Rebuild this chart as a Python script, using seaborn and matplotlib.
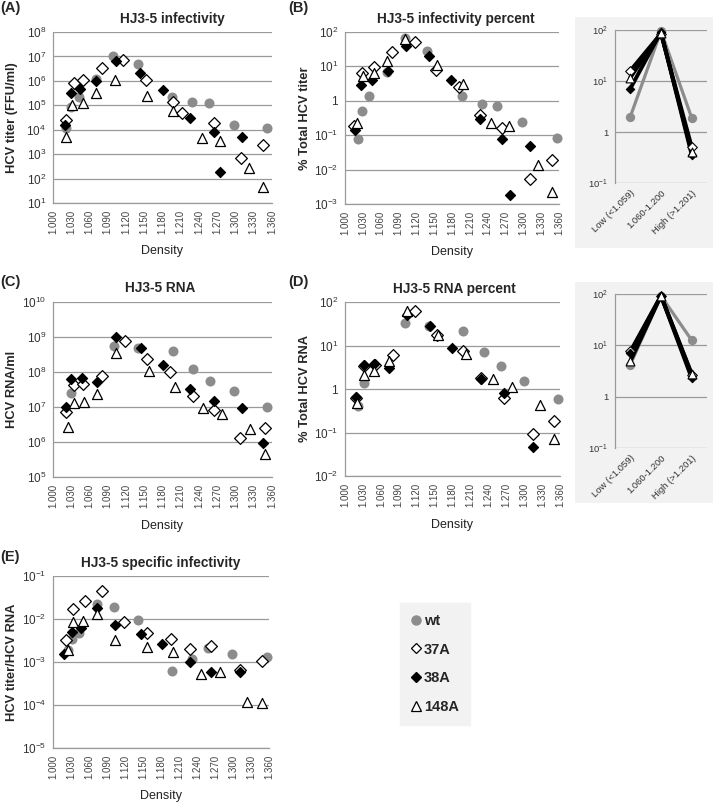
"""HJ3-5 density gradient panels (A-E) with summary insets."""

import numpy as np
import pandas as pd
import matplotlib
matplotlib.use('Agg')
import matplotlib.pyplot as plt
import seaborn as sns
from matplotlib.ticker import FuncFormatter, NullLocator
from matplotlib.patches import Rectangle
from matplotlib.lines import Line2D

# ── Data ─────────────────────────────────────────────────────────────────────
SERIES = ['wt', '37A', '38A', '148A']
DENSITY_TICKS = [1.000, 1.030, 1.060, 1.090, 1.120, 1.150, 1.180,
                 1.210, 1.240, 1.270, 1.300, 1.330, 1.360]
INSET_CATS = ['Low (<1.059)', '1.060-1.200', 'High (>1.201)']

# (A) infectivity, FFU/ml
A_WT_X = [1.022, 1.029, 1.042, 1.071, 1.099, 1.139, 1.196, 1.229, 1.257, 1.297, 1.352]
A_WT_Y = [1.2e4, 8.3e4, 2.2e5, 1.2e6, 1.05e7, 4.7e6, 2.2e5, 1.4e5, 1.2e5, 1.6e4, 1.2e4]
A_37A_X = [1.022, 1.034, 1.049, 1.080, 1.115, 1.153, 1.198, 1.212, 1.264, 1.309, 1.346]
A_37A_Y = [2.5e4, 8.3e5, 1.1e6, 3.4e6, 7.1e6, 1.1e6, 1.4e5, 4.7e4, 1.9e4, 6.9e2, 2.4e3]
A_38A_X = [1.020, 1.029, 1.045, 1.071, 1.103, 1.143, 1.180, 1.226, 1.264, 1.275, 1.311]
A_38A_Y = [1.6e4, 3.2e5, 4.5e5, 9.8e5, 6.3e6, 2.1e6, 4.2e5, 3.0e4, 8.3e3, 1.9e2, 5.2e3]
A_148A_X = [1.022, 1.032, 1.049, 1.071, 1.102, 1.154, 1.198, 1.245, 1.275, 1.322, 1.346]
A_148A_Y = [4.9e3, 1.0e5, 1.3e5, 3.1e5, 1.1e6, 2.4e5, 6.0e4, 4.5e3, 3.6e3, 2.7e2, 45]

# (B) infectivity, % of total titer
B_WT_X = [1.022, 1.028, 1.041, 1.071, 1.101, 1.138, 1.196, 1.230, 1.255, 1.297, 1.356]
B_WT_Y = [0.076, 0.52, 1.4, 6.8, 65, 28, 1.35, 0.81, 0.72, 0.24, 0.081]
B_37A_X = [1.015, 1.028, 1.048, 1.079, 1.118, 1.153, 1.192, 1.227, 1.264, 1.311, 1.348]
B_37A_Y = [0.19, 6.5, 9.3, 26, 50, 7.8, 2.5, 0.38, 0.16, 0.0055, 0.019]
B_38A_X = [1.017, 1.027, 1.045, 1.073, 1.103, 1.141, 1.179, 1.227, 1.264, 1.278, 1.311]
B_38A_Y = [0.14, 2.8, 3.9, 7.6, 40, 19.5, 4.0, 0.29, 0.076, 0.0018, 0.048]
B_148A_X = [1.021, 1.031, 1.048, 1.071, 1.101, 1.155, 1.199, 1.245, 1.276, 1.324, 1.348]
B_148A_Y = [0.23, 5.4, 6.5, 14.8, 63, 11.2, 3.0, 0.22, 0.18, 0.0135, 0.0022]

# (B) inset: % titer per density range (wt, 37A, 38A, 148A)
B_INSET = [[2.0, 95, 1.9], [16, 85, 0.51], [7.1, 92, 0.36], [11.7, 88, 0.41]]

# (C) RNA, copies/ml
C_WT_X = [1.022, 1.030, 1.101, 1.140, 1.197, 1.230, 1.258, 1.298, 1.352]
C_WT_Y = [7.2e6, 2.5e7, 5.6e8, 4.8e8, 3.9e8, 1.2e8, 5.6e7, 2.8e7, 1.0e7]
C_37A_X = [1.021, 1.034, 1.050, 1.081, 1.118, 1.154, 1.193, 1.230, 1.264, 1.308, 1.348]
C_37A_Y = [7.2e6, 4.3e7, 4.6e7, 7.8e7, 7.8e8, 2.3e8, 9.8e7, 2.0e7, 8.1e6, 1.3e6, 2.5e6]
C_38A_X = [1.021, 1.030, 1.047, 1.073, 1.104, 1.145, 1.180, 1.226, 1.264, 1.311, 1.345]
C_38A_Y = [1.0e7, 6.3e7, 6.6e7, 5.2e7, 9.8e8, 5.0e8, 1.6e8, 3.2e7, 1.5e7, 9.5e6, 9.1e5]
C_148A_X = [1.024, 1.034, 1.051, 1.073, 1.104, 1.158, 1.200, 1.246, 1.277, 1.324, 1.348]
C_148A_Y = [2.7e6, 1.3e7, 1.4e7, 2.3e7, 3.6e8, 1.1e8, 3.8e7, 9.1e6, 6.3e6, 2.3e6, 4.4e5]

# (D) RNA, % of total
D_WT_X = [1.021, 1.031, 1.100, 1.140, 1.198, 1.233, 1.261, 1.300, 1.356]
D_WT_Y = [0.40, 1.38, 33, 28, 22, 7.1, 3.3, 1.5, 0.60]
D_37A_X = [1.018, 1.031, 1.050, 1.081, 1.118, 1.154, 1.198, 1.228, 1.266, 1.314, 1.350]
D_37A_Y = [0.62, 3.3, 3.6, 5.9, 62, 17.8, 7.4, 1.8, 0.63, 0.093, 0.18]
D_38A_X = [1.018, 1.031, 1.048, 1.073, 1.104, 1.143, 1.179, 1.228, 1.267, 1.314]
D_38A_Y = [0.66, 3.5, 3.8, 3.0, 51, 28, 8.9, 1.7, 0.79, 0.047]
D_148A_X = [1.020, 1.032, 1.049, 1.074, 1.104, 1.155, 1.202, 1.248, 1.280, 1.327, 1.350]
D_148A_Y = [0.48, 2.1, 2.6, 4.4, 62, 17.8, 6.5, 1.66, 1.12, 0.42, 0.072]

# (D) inset: % RNA per density range
D_INSET = [[4.2, 92, 12.6], [7.6, 92, 2.7], [7.2, 92, 2.3], [4.9, 92, 2.8]]

# (E) specific infectivity, titer / RNA
E_WT_X = [1.025, 1.032, 1.044, 1.074, 1.101, 1.141, 1.198, 1.232, 1.259, 1.298, 1.356]
E_WT_Y = [1.9e-3, 3.4e-3, 4.7e-3, 2.2e-2, 1.95e-2, 9.5e-3, 6.2e-4, 1.2e-3, 2.1e-3, 1.5e-3, 1.3e-3]
E_37A_X = [1.021, 1.034, 1.053, 1.082, 1.119, 1.156, 1.196, 1.229, 1.264, 1.312, 1.349]
E_37A_Y = [3.2e-3, 1.7e-2, 2.6e-2, 4.6e-2, 8.7e-3, 4.8e-3, 3.5e-3, 2.0e-3, 2.3e-3, 6.6e-4, 1.07e-3]
E_38A_X = [1.019, 1.031, 1.047, 1.074, 1.104, 1.146, 1.182, 1.228, 1.264, 1.311]
E_38A_Y = [1.5e-3, 5.1e-3, 6.3e-3, 1.8e-2, 7.2e-3, 4.5e-3, 2.6e-3, 1.0e-3, 6.0e-4, 5.8e-4]
E_148A_X = [1.025, 1.033, 1.050, 1.074, 1.104, 1.156, 1.200, 1.247, 1.278, 1.323, 1.348]
E_148A_Y = [1.9e-3, 8.3e-3, 8.9e-3, 1.3e-2, 3.2e-3, 2.2e-3, 1.7e-3, 5.2e-4, 5.8e-4, 1.2e-4, 1.1e-4]

# ── Styling ──────────────────────────────────────────────────────────────────
sns.set_style('white')
plt.rcParams['font.family'] = ['Liberation Sans', 'DejaVu Sans']
plt.rcParams['mathtext.fontset'] = 'custom'
plt.rcParams['mathtext.rm'] = 'Liberation Sans'
plt.rcParams['mathtext.it'] = 'Liberation Sans:italic'
plt.rcParams['mathtext.bf'] = 'Liberation Sans:bold'

GREY = '#8c8c8c'
GRID = '#9a9a9a'
BOX = '#f2f2f2'
STYLE = {
    'wt':   dict(marker='o', s=52, color=GREY, edgecolor=GREY, linewidth=0),
    '37A':  dict(marker='D', s=36, color='white', edgecolor='black', linewidth=0.9),
    '38A':  dict(marker='D', s=26, color='black', edgecolor='black', linewidth=0.9),
    '148A': dict(marker='^', s=52, color='white', edgecolor='black', linewidth=0.9),
}
INSET_STYLE = {
    'wt':   dict(marker='o', s=45, color=GREY, edgecolor=GREY, linewidth=0),
    '37A':  dict(marker='D', s=24, color='white', edgecolor='black', linewidth=0.8),
    '38A':  dict(marker='D', s=18, color='black', edgecolor='black', linewidth=0.8),
    '148A': dict(marker='^', s=40, color='white', edgecolor='black', linewidth=0.8),
}

W, H = 713, 802
fig = plt.figure(figsize=(W / 100, H / 100), dpi=100)


def px_rect(left, top, right, bottom):
    return [left / W, 1 - bottom / H, (right - left) / W, (bottom - top) / H]


def log_label(v, _pos):
    e = int(round(np.log10(v)))
    return '1' if e == 0 else f'$10^{{{e}}}$'


def style_axes(ax, ylim, ytick_size):
    ax.set_yscale('log')
    ax.set_ylim(*ylim)
    lo, hi = np.log10(ylim[0]), np.log10(ylim[1])
    ax.set_yticks(10.0 ** np.arange(round(lo), round(hi) + 1))
    ax.yaxis.set_minor_locator(NullLocator())
    ax.yaxis.set_major_formatter(FuncFormatter(log_label))
    ax.yaxis.grid(True, color=GRID, linewidth=0.9)
    ax.xaxis.grid(False)
    ax.set_axisbelow(True)
    for side in ['top', 'right']:
        ax.spines[side].set_visible(False)
    for side in ['left', 'bottom']:
        ax.spines[side].set_color(GRID)
        ax.spines[side].set_linewidth(0.9)
    ax.tick_params(axis='y', length=0, pad=5, labelsize=ytick_size, labelcolor='#333333')


def density_panel(rect, xs, ys, ylim, title, title_x, ylabel, ylabel_x):
    ax = fig.add_axes(px_rect(*rect))
    for name, x, y in zip(SERIES, xs, ys):
        sns.scatterplot(x=x, y=y, ax=ax, legend=False, zorder=3, clip_on=False, **STYLE[name])
    style_axes(ax, ylim, 8.5)
    ax.set_xlim(1.0, 1.36)
    ax.set_xticks(DENSITY_TICKS)
    ax.set_xticklabels([f'{t:.3f}' for t in DENSITY_TICKS], rotation=90)
    ax.tick_params(axis='x', length=0, pad=5, labelsize=7, labelcolor='#444444')
    ax.set_xlabel('Density', fontsize=9, color='#222222')
    ax.xaxis.set_label_coords(0.5, -0.28)
    ax.xaxis.label.set_verticalalignment('center')
    ax.set_ylabel(ylabel, fontsize=9.3, fontweight='bold')
    ax.yaxis.set_label_coords(ylabel_x, 0.5)
    ax.yaxis.label.set_verticalalignment('center')
    height = rect[3] - rect[1]
    ax.text(title_x, 1 + 13.5 / height, title, transform=ax.transAxes,
            ha='center', va='center', fontsize=9.8, fontweight='bold')
    return ax


def inset_panel(rect, box, vals):
    fig.add_artist(Rectangle((box[0] / W, 1 - box[3] / H), (box[2] - box[0]) / W,
                             (box[3] - box[1]) / H, transform=fig.transFigure,
                             facecolor=BOX, edgecolor='none', zorder=-1))
    ax = fig.add_axes(px_rect(*rect))
    ax.set_facecolor('none')
    for name, v in zip(SERIES, vals):
        sns.lineplot(x=INSET_CATS, y=v, ax=ax, sort=False, legend=False, zorder=2,
                     color=GREY if name == 'wt' else 'black',
                     linewidth=2.3 if name == 'wt' else 2.8)
    for name, v in zip(SERIES, vals):
        sns.scatterplot(x=INSET_CATS, y=v, ax=ax, legend=False, zorder=3, clip_on=False,
                        **INSET_STYLE[name])
    style_axes(ax, (0.1, 100), 6.8)
    ax.set_xlim(-0.5, 2.5)
    ax.set_xticks(range(len(INSET_CATS)))
    ax.set_xticklabels(INSET_CATS, rotation=45, ha='right', rotation_mode='anchor')
    ax.tick_params(axis='x', length=0, pad=4, labelsize=6.8, labelcolor='#333333')
    ax.spines['bottom'].set_visible(False)
    ax.set_xlabel('')
    ax.set_ylabel('')
    return ax


# ── Panels ───────────────────────────────────────────────────────────────────
density_panel((53, 32, 272, 203),
              [A_WT_X, A_37A_X, A_38A_X, A_148A_X], [A_WT_Y, A_37A_Y, A_38A_Y, A_148A_Y],
              (1e1, 1e8), 'HJ3-5 infectivity', 0.545, 'HCV titer (FFU/ml)', -0.187)
density_panel((345, 32, 559, 204),
              [B_WT_X, B_37A_X, B_38A_X, B_148A_X], [B_WT_Y, B_37A_Y, B_38A_Y, B_148A_Y],
              (1e-3, 1e2), 'HJ3-5 infectivity percent', 0.52, '% Total HCV titer', -0.187)
inset_panel((615, 30, 707, 183), (575, 17, 713, 248), B_INSET)

density_panel((53, 302, 272, 477),
              [C_WT_X, C_37A_X, C_38A_X, C_148A_X], [C_WT_Y, C_37A_Y, C_38A_Y, C_148A_Y],
              (1e5, 1e10), 'HJ3-5 RNA', 0.49, 'HCV RNA/ml', -0.187)
density_panel((345, 302, 560, 476),
              [D_WT_X, D_37A_X, D_38A_X, D_148A_X], [D_WT_Y, D_37A_Y, D_38A_Y, D_148A_Y],
              (1e-2, 1e2), 'HJ3-5 RNA percent', 0.507, '% Total HCV RNA', -0.186)
inset_panel((615, 294, 707, 448), (575, 282, 713, 503), D_INSET)

density_panel((53, 576, 269, 748),
              [E_WT_X, E_37A_X, E_38A_X, E_148A_X], [E_WT_Y, E_37A_Y, E_38A_Y, E_148A_Y],
              (1e-5, 1e-1), 'HJ3-5 specific infectivity', 0.5, 'HCV titer/HCV RNA', -0.191)

# panel letters
for label, x, y in [('(A)', 0, 8), ('(B)', 288, 8), ('(C)', 0, 282),
                    ('(D)', 288, 282), ('(E)', 0, 557)]:
    fig.text(x / W, 1 - y / H, label, ha='left', va='center', fontsize=10.5, fontweight='bold')

# legend
handles = [
    Line2D([], [], linestyle='none', marker='o', markersize=6.5,
           markerfacecolor=GREY, markeredgecolor=GREY),
    Line2D([], [], linestyle='none', marker='D', markersize=4.6,
           markerfacecolor='white', markeredgecolor='black', markeredgewidth=0.9),
    Line2D([], [], linestyle='none', marker='D', markersize=4.6,
           markerfacecolor='black', markeredgecolor='black'),
    Line2D([], [], linestyle='none', marker='^', markersize=6.5,
           markerfacecolor='white', markeredgecolor='black', markeredgewidth=0.9),
]
leg = fig.legend(handles, SERIES, loc='upper left', bbox_to_anchor=(400 / W, 1 - 603 / H),
                 frameon=True, fancybox=False, facecolor=BOX, edgecolor=BOX, framealpha=1,
                 prop={'weight': 'bold', 'size': 10.5}, labelspacing=1.0,
                 handlelength=0.7, handletextpad=0.2, borderpad=0.75, borderaxespad=0)

fig.savefig('out.png', dpi=100)
plt.close(fig)
